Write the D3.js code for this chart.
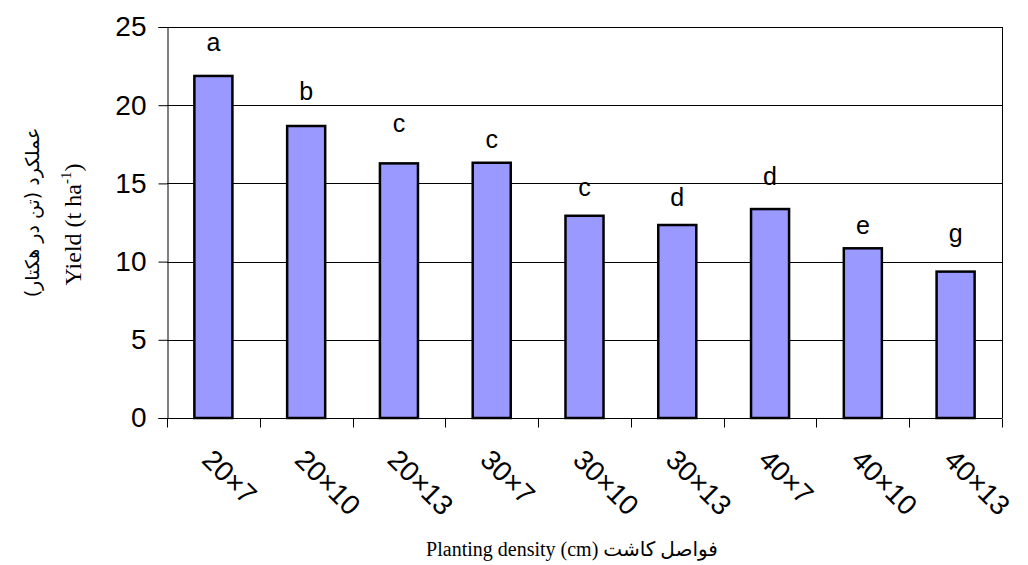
<!DOCTYPE html>
<html>
<head>
<meta charset="utf-8">
<script src="https://cdn.jsdelivr.net/npm/d3@7"></script>
<style>
  html, body { margin: 0; padding: 0; background: #fff; }
  svg { display: block; }
</style>
</head>
<body>
<script>
// ---- data ----
const categories = ["20×7", "20×10", "20×13", "30×7", "30×10", "30×13", "40×7", "40×10", "40×13"];
const yieldValues = [21.87, 18.67, 16.28, 16.32, 12.93, 12.34, 13.36, 10.85, 9.36];
const letters = ["a", "b", "c", "c", "c", "d", "d", "e", "g"];
const letterLevels = [23.47, 20.33, 18.3, 17.28, 14.21, 13.55, 14.9, 11.76, 11.27];
const yTicks = [0, 5, 10, 15, 20, 25];
const yTitleFa = "عملکرد (تن در هکتار)";
const yTitleEn = "Yield (t ha";
const xTitle = "Planting density (cm) فواصل کاشت";

// ---- layout ----
const W = 1028, H = 565;
const margin = { top: 27, right: 26, bottom: 147, left: 167 };
const iw = W - margin.left - margin.right;
const ih = H - margin.top - margin.bottom;

const svg = d3.select("body").append("svg").attr("width", W).attr("height", H);
const g = svg.append("g").attr("transform", `translate(${margin.left},${margin.top})`);

const x = d3.scaleBand().domain(categories).range([0, iw]).padding(0);
const y = d3.scaleLinear().domain([0, 25]).range([ih, 0]);
const barW = x.bandwidth() * 0.41;

// gridlines
g.append("g").selectAll("line").data(yTicks.filter(d => d > 0)).join("line")
  .attr("x1", 0).attr("x2", iw)
  .attr("y1", d => Math.round(y(d)) + 0.5).attr("y2", d => Math.round(y(d)) + 0.5)
  .attr("stroke", "#000").attr("stroke-width", 1);

// right border
g.append("line").attr("x1", iw + 0.5).attr("x2", iw + 0.5).attr("y1", y(25)).attr("y2", ih)
  .attr("stroke", "#000").attr("stroke-width", 1);

// bars
g.append("g").selectAll("rect").data(yieldValues).join("rect")
  .attr("x", (d, i) => x(categories[i]) + (x.bandwidth() - barW) / 2)
  .attr("width", barW)
  .attr("y", d => y(d))
  .attr("height", d => ih - y(d))
  .attr("fill", "#9999FF")
  .attr("stroke", "#000")
  .attr("stroke-width", 2.5);

// letters
g.append("g").selectAll("text").data(letters).join("text")
  .attr("x", (d, i) => x(categories[i]) + x.bandwidth() / 2)
  .attr("y", (d, i) => y(letterLevels[i]))
  .attr("text-anchor", "middle")
  .attr("font-family", "Arial, 'Liberation Sans', sans-serif")
  .attr("font-size", 25)
  .attr("fill", "#000")
  .text(d => d);

// y axis
const yAxis = d3.axisLeft(y).tickValues(yTicks).tickSize(9).tickPadding(12).tickFormat(d3.format("d"));
const ya = g.append("g").attr("transform", "translate(0.5,0)").call(yAxis);
ya.select(".domain").attr("stroke", "#000").attr("stroke-width", 1);
ya.selectAll(".tick line").attr("stroke", "#000");
ya.selectAll(".tick text")
  .attr("font-family", "Arial, 'Liberation Sans', sans-serif")
  .attr("font-size", 28).attr("fill", "#000");

// x axis with boundary ticks
const xa = g.append("g").attr("transform", `translate(0,${ih + 0.5})`);
xa.append("line").attr("x1", 0).attr("x2", iw).attr("stroke", "#000").attr("stroke-width", 1);
const bounds = categories.map(c => x(c)).concat([iw]);
xa.selectAll("line.b").data(bounds).join("line").attr("class", "b")
  .attr("x1", d => Math.round(d) + 0.5).attr("x2", d => Math.round(d) + 0.5)
  .attr("y1", 0).attr("y2", 9).attr("stroke", "#000");
xa.selectAll("text").data(categories).join("text")
  .attr("transform", d => `translate(${x(d) + x.bandwidth() / 2 - 13},${43}) rotate(45)`)
  .attr("text-anchor", "start")
  .attr("font-family", "Arial, 'Liberation Sans', sans-serif")
  .attr("font-size", 28).attr("fill", "#000")
  .text(d => d);

// y titles
svg.append("text")
  .attr("transform", `translate(39,${margin.top + ih / 2 - 10}) rotate(-90)`)
  .attr("text-anchor", "middle")
  .attr("font-family", "'DejaVu Sans', sans-serif")
  .attr("font-size", 19).attr("fill", "#000")
  .text(yTitleFa);

const yt = svg.append("text")
  .attr("transform", `translate(81,${margin.top + ih / 2 + 2}) rotate(-90)`)
  .attr("text-anchor", "middle")
  .attr("font-family", "'Liberation Serif', 'Times New Roman', serif")
  .attr("font-weight", "normal")
  .attr("font-size", 24).attr("fill", "#000");
yt.append("tspan").text(yTitleEn);
yt.append("tspan").attr("font-size", 15).attr("dy", -10).text("-1");
yt.append("tspan").attr("dy", 10).text(")");

// x title
svg.append("text")
  .attr("x", 572).attr("y", 556)
  .attr("text-anchor", "middle")
  .attr("font-family", "'Liberation Serif', 'Times New Roman', 'DejaVu Sans', serif")
  .attr("font-size", 20).attr("fill", "#000")
  .text(xTitle);
</script>
</body>
</html>
